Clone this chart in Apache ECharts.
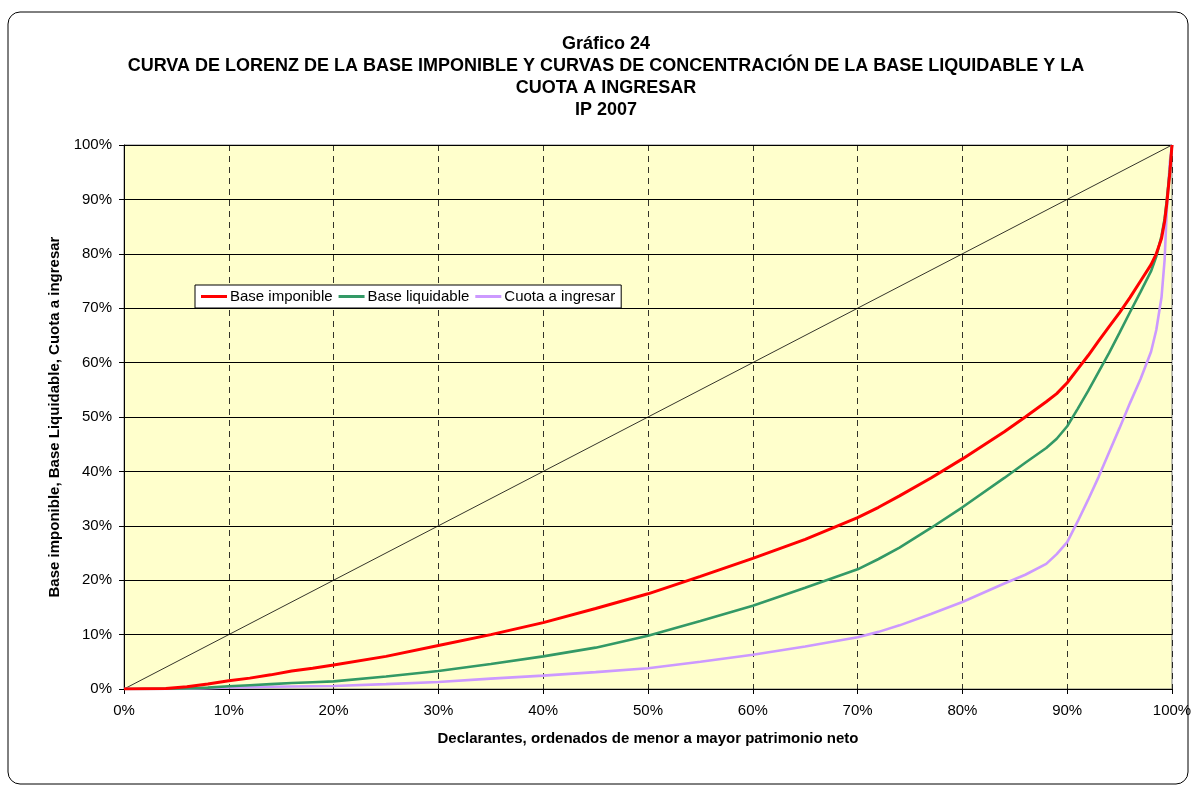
<!DOCTYPE html>
<html><head><meta charset="utf-8">
<script src="https://cdn.jsdelivr.net/npm/echarts@6/dist/echarts.min.js"></script>
<style>html,body{margin:0;padding:0;background:#fff}#c{width:1195px;height:787px}</style>
</head><body><div id="c"></div>
<script>
var xPct = [0, 2, 4, 6, 8, 10, 12, 14, 16, 18, 20, 25, 30, 35, 40, 45, 50, 55, 60, 65, 70, 72, 74, 77, 80, 84, 86, 88, 89, 90, 91, 92, 93, 94, 95, 96, 97, 98, 98.5, 99, 99.3, 99.5, 99.8, 100];
var baseImponible = [0, 0.05, 0.1, 0.4, 0.9, 1.5, 2.0, 2.6, 3.3, 3.8, 4.4, 6.0, 8.0, 10.0, 12.2, 14.8, 17.5, 20.7, 24.0, 27.5, 31.5, 33.4, 35.5, 38.8, 42.3, 47.3, 50.0, 52.8, 54.3, 56.3, 58.8, 61.3, 64.0, 66.6, 69.2, 72.0, 75.0, 78.0, 80.0, 82.8, 86.0, 89.2, 95.0, 100];
var baseLiquidable = [0, 0, 0.05, 0.1, 0.25, 0.5, 0.7, 0.9, 1.1, 1.25, 1.4, 2.3, 3.3, 4.6, 6.0, 7.6, 9.8, 12.5, 15.3, 18.6, 22.0, 23.9, 26.0, 29.6, 33.4, 38.8, 41.6, 44.3, 46.0, 48.3, 51.5, 54.8, 58.3, 61.8, 65.5, 69.3, 73.0, 76.8, 79.5, 83.3, 86.5, 89.8, 95.5, 100];
var cuotaIngresar = [0, 0, 0, 0.05, 0.15, 0.3, 0.35, 0.4, 0.45, 0.5, 0.55, 0.9, 1.3, 1.9, 2.45, 3.1, 3.8, 5.0, 6.3, 7.8, 9.5, 10.5, 11.7, 13.8, 16.0, 19.4, 21.0, 23.0, 24.8, 27.0, 30.8, 34.8, 39.0, 43.5, 48.0, 52.6, 57.0, 62.0, 66.0, 72.0, 79.0, 88.0, 97.0, 100];
var equidad = [[0, 0], [100, 100]];
var seriesNames = ['Base imponible', 'Base liquidable', 'Cuota a ingresar'];
var titleLines = ['Gráfico 24', 'CURVA DE LORENZ DE LA BASE IMPONIBLE Y CURVAS DE CONCENTRACIÓN DE LA BASE LIQUIDABLE Y LA', 'CUOTA A INGRESAR', 'IP 2007'];

function pairs(v){ return xPct.map(function(x,i){ return [x, v[i]]; }); }
var chart = echarts.init(document.getElementById('c'), null, {renderer:'canvas'});
var font = 'Arial, "Liberation Sans", sans-serif';
chart.setOption({
  backgroundColor:'#ffffff',
  animation:false,
  graphic:[{type:'rect', shape:{x:8, y:12, width:1180, height:772, r:12}, style:{fill:'none', stroke:'#000', lineWidth:1}, z:-10}],
  title:{text:titleLines.join('\n'), left:601, textAlign:'center', top:28, textStyle:{fontFamily:font, fontSize:18, fontWeight:'bold', color:'#000', lineHeight:22}},
  legend:{data:seriesNames, left:195, top:285, orient:'horizontal', backgroundColor:'#fff', borderColor:'#000', borderWidth:1, borderRadius:0, padding:[4,6,4,6], itemGap:6, itemWidth:26, itemHeight:3, icon:'rect', textStyle:{fontFamily:font, fontSize:15, color:'#000', padding:[0,0,0,-2]}},
  grid:{left:124, right:23, top:145, bottom:98, show:true, backgroundColor:'#FFFFCC', borderColor:'#808080', borderWidth:1},
  xAxis:{type:'value', min:0, max:100, interval:10,
    name:'Declarantes, ordenados de menor a mayor patrimonio neto', nameLocation:'middle', nameGap:42,
    nameTextStyle:{fontFamily:font, fontSize:15, fontWeight:'bold', color:'#000'},
    axisLine:{show:true, lineStyle:{color:'#000', width:1}}, axisTick:{show:true, length:5, inside:false, lineStyle:{color:'#000'}},
    axisLabel:{formatter:'{value}%', fontFamily:font, fontSize:15, color:'#000', margin:14},
    splitLine:{show:true, lineStyle:{color:'#000', width:1, type:[6,5], opacity:0.8}}},
  yAxis:{type:'value', min:0, max:100, interval:10,
    name:'Base imponible, Base Liquidable, Cuota a ingresar', nameLocation:'middle', nameGap:58, nameRotate:90,
    nameTextStyle:{fontFamily:font, fontSize:15, fontWeight:'bold', color:'#000'},
    axisLine:{show:true, lineStyle:{color:'#000', width:1}}, axisTick:{show:true, length:5, inside:false, lineStyle:{color:'#000'}},
    axisLabel:{formatter:'{value}%', fontFamily:font, fontSize:15, color:'#000', margin:12},
    splitLine:{show:true, lineStyle:{color:'#000', width:1}}},
  series:[
    {name:'diag', type:'line', data:equidad, symbol:'none', lineStyle:{color:'#000', width:0.8}, z:2, silent:true},
    {name:seriesNames[0], type:'line', data:pairs(baseImponible), symbol:'none', lineStyle:{color:'#FF0000', width:3}, itemStyle:{color:'#FF0000'}, z:5},
    {name:seriesNames[1], type:'line', data:pairs(baseLiquidable), symbol:'none', lineStyle:{color:'#339966', width:2.6}, itemStyle:{color:'#339966'}, z:4},
    {name:seriesNames[2], type:'line', data:pairs(cuotaIngresar), symbol:'none', lineStyle:{color:'#CC99FF', width:2.6}, itemStyle:{color:'#CC99FF'}, z:3}
  ]
});
</script></body></html>
